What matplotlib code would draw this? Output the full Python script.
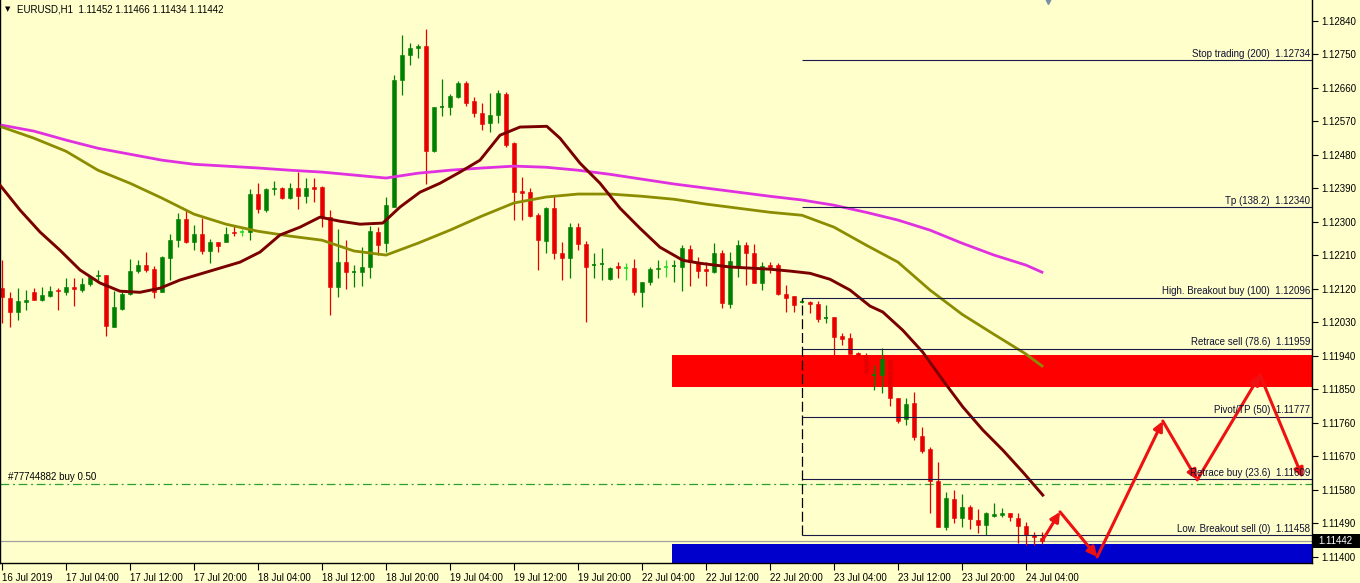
import matplotlib
matplotlib.use('Agg')
import matplotlib.pyplot as plt
import matplotlib.transforms as mtransforms
from matplotlib.patches import Rectangle

# ---------------- data (EURUSD H1, 16 Jul 20:00 .. 24 Jul 06:00) ----------------
opens = [1.12122, 1.12095, 1.12058, 1.12085, 1.12111, 1.12090, 1.12101, 1.12117, 1.12111, 1.12125,
         1.12117, 1.12133, 1.12154, 1.12157, 1.12017, 1.12066, 1.12106, 1.12168, 1.12184, 1.12173,
         1.12111, 1.12203, 1.12251, 1.12308, 1.12246, 1.12267, 1.12222, 1.12246, 1.12246, 1.12273,
         1.12273, 1.12273, 1.12375, 1.12332, 1.12388, 1.12391, 1.12364, 1.12391, 1.12369, 1.12394,
         1.12394, 1.12313, 1.12125, 1.12192, 1.12165, 1.12165, 1.12179, 1.12273, 1.12243, 1.12340,
         1.12681, 1.12748, 1.12767, 1.12772, 1.12490, 1.12608, 1.12608, 1.12635, 1.12673, 1.12625,
         1.12592, 1.12565, 1.12587, 1.12643, 1.12512, 1.12383, 1.12380, 1.12318, 1.12248, 1.12337,
         1.12216, 1.12203, 1.12286, 1.12240, 1.12184, 1.12187, 1.12146, 1.12181, 1.12176, 1.12176,
         1.12111, 1.12138, 1.12173, 1.12179, 1.12181, 1.12179, 1.12227, 1.12192, 1.12173, 1.12165,
         1.12216, 1.12079, 1.12179, 1.12238, 1.12216, 1.12136, 1.12184, 1.12184, 1.12106, 1.12101,
         1.12085, 1.12085, 1.12079, 1.12042, 1.12044, 1.11993, 1.11988, 1.11947, 1.11942, 1.11888,
         1.11888, 1.11929, 1.11827, 1.11770, 1.11813, 1.11724, 1.11690, 1.11604, 1.11480, 1.11555,
         1.11504, 1.11534, 1.11499, 1.11485, 1.11510, 1.11512, 1.11518, 1.11504, 1.11483, 1.11458,
         1.11452]
highs = [1.12197, 1.12111, 1.12122, 1.12117, 1.12122, 1.12125, 1.12128, 1.12122, 1.12149, 1.12149,
         1.12149, 1.12154, 1.12171, 1.12157, 1.12114, 1.12117, 1.12200, 1.12197, 1.12219, 1.12181,
         1.12208, 1.12267, 1.12324, 1.12334, 1.12291, 1.12310, 1.12254, 1.12246, 1.12286, 1.12289,
         1.12281, 1.12388, 1.12404, 1.12391, 1.12410, 1.12394, 1.12404, 1.12434, 1.12418, 1.12418,
         1.12396, 1.12332, 1.12281, 1.12251, 1.12184, 1.12232, 1.12289, 1.12286, 1.12367, 1.12694,
         1.12802, 1.12780, 1.12778, 1.12818, 1.12608, 1.12684, 1.12643, 1.12678, 1.12678, 1.12635,
         1.12619, 1.12646, 1.12654, 1.12649, 1.12514, 1.12420, 1.12391, 1.12324, 1.12340, 1.12372,
         1.12246, 1.12297, 1.12297, 1.12248, 1.12216, 1.12230, 1.12179, 1.12192, 1.12189, 1.12200,
         1.12138, 1.12179, 1.12197, 1.12197, 1.12197, 1.12238, 1.12238, 1.12205, 1.12192, 1.12243,
         1.12224, 1.12219, 1.12251, 1.12246, 1.12240, 1.12192, 1.12192, 1.12189, 1.12130, 1.12101,
         1.12093, 1.12087, 1.12087, 1.12076, 1.12044, 1.12001, 1.12001, 1.11950, 1.11947, 1.11915,
         1.11961, 1.11931, 1.11827, 1.11827, 1.11843, 1.11749, 1.11695, 1.11655, 1.11574, 1.11579,
         1.11569, 1.11539, 1.11528, 1.11520, 1.11544, 1.11531, 1.11518, 1.11518, 1.11493, 1.11466,
         1.11466]
lows = [1.12028, 1.12017, 1.12036, 1.12063, 1.12090, 1.12087, 1.12098, 1.12063, 1.12103, 1.12074,
        1.12111, 1.12128, 1.12144, 1.11993, 1.12017, 1.12063, 1.12103, 1.12162, 1.12165, 1.12095,
        1.12111, 1.12144, 1.12232, 1.12243, 1.12224, 1.12213, 1.12189, 1.12219, 1.12246, 1.12262,
        1.12262, 1.12251, 1.12324, 1.12326, 1.12372, 1.12361, 1.12361, 1.12334, 1.12351, 1.12353,
        1.12286, 1.12050, 1.12098, 1.12119, 1.12125, 1.12128, 1.12149, 1.12211, 1.12219, 1.12340,
        1.12641, 1.12721, 1.12740, 1.12402, 1.12488, 1.12584, 1.12587, 1.12633, 1.12611, 1.12582,
        1.12547, 1.12541, 1.12565, 1.12501, 1.12305, 1.12305, 1.12313, 1.12171, 1.12216, 1.12200,
        1.12144, 1.12149, 1.12224, 1.12031, 1.12149, 1.12144, 1.12144, 1.12149, 1.12144, 1.12103,
        1.12071, 1.12130, 1.12149, 1.12152, 1.12138, 1.12114, 1.12128, 1.12149, 1.12128, 1.12162,
        1.12068, 1.12068, 1.12152, 1.12130, 1.12136, 1.12117, 1.12162, 1.12103, 1.12058, 1.12058,
        1.12082, 1.12055, 1.12031, 1.12028, 1.11942, 1.11969, 1.11945, 1.11939, 1.11888, 1.11848,
        1.11840, 1.11805, 1.11759, 1.11754, 1.11714, 1.11679, 1.11518, 1.11480, 1.11472, 1.11491,
        1.11480, 1.11475, 1.11464, 1.11458, 1.11507, 1.11507, 1.11496, 1.11437, 1.11432, 1.11432,
        1.11434]
closes = [1.12098, 1.12058, 1.12087, 1.12090, 1.12090, 1.12103, 1.12114, 1.12114, 1.12125, 1.12119,
          1.12133, 1.12152, 1.12157, 1.12020, 1.12071, 1.12106, 1.12168, 1.12184, 1.12171, 1.12111,
          1.12205, 1.12251, 1.12308, 1.12246, 1.12267, 1.12222, 1.12246, 1.12235, 1.12267, 1.12270,
          1.12273, 1.12375, 1.12334, 1.12388, 1.12391, 1.12364, 1.12391, 1.12369, 1.12391, 1.12388,
          1.12313, 1.12125, 1.12192, 1.12165, 1.12166, 1.12179, 1.12275, 1.12238, 1.12345, 1.12681,
          1.12748, 1.12767, 1.12772, 1.12490, 1.12608, 1.12609, 1.12638, 1.12673, 1.12619, 1.12592,
          1.12563, 1.12587, 1.12646, 1.12506, 1.12380, 1.12377, 1.12316, 1.12251, 1.12337, 1.12216,
          1.12203, 1.12286, 1.12240, 1.12179, 1.12185, 1.12188, 1.12176, 1.12176, 1.12176, 1.12111,
          1.12138, 1.12173, 1.12176, 1.12179, 1.12182, 1.12230, 1.12192, 1.12168, 1.12168, 1.12216,
          1.12082, 1.12195, 1.12238, 1.12216, 1.12136, 1.12181, 1.12179, 1.12106, 1.12095, 1.12076,
          1.12086, 1.12079, 1.12039, 1.12043, 1.11990, 1.11985, 1.11945, 1.11942, 1.11896, 1.11889,
          1.11931, 1.11827, 1.11765, 1.11810, 1.11722, 1.11684, 1.11604, 1.11480, 1.11558, 1.11504,
          1.11534, 1.11501, 1.11485, 1.11518, 1.11515, 1.11518, 1.11507, 1.11483, 1.11458, 1.11453,
          1.11442]

# time axis labels (bar index -> label)
time_label_idx = [0, 8, 16, 24, 32, 40, 48, 56, 64, 72, 80, 88, 96, 104, 112, 120, 128]
time_labels = ['16 Jul 2019', '17 Jul 04:00', '17 Jul 12:00', '17 Jul 20:00', '18 Jul 04:00',
               '18 Jul 12:00', '18 Jul 20:00', '19 Jul 04:00', '19 Jul 12:00', '19 Jul 20:00',
               '22 Jul 04:00', '22 Jul 12:00', '22 Jul 20:00', '23 Jul 04:00', '23 Jul 12:00',
               '23 Jul 20:00', '24 Jul 04:00']

# fast moving average (maroon)
ma_fast_idx = [-0.25, 2.25, 4.75, 7.25, 9.75, 12.25, 14.75, 17.25, 19.75, 22.25, 24.75, 27.25,
               29.75, 32.25, 34.75, 37.25, 39.75, 42.25, 44.75, 47.6, 49.75, 52.25, 54.75, 57.25,
               59.75, 62.25, 64.75, 68.1, 69.75, 72.25, 74.75, 77.25, 79.75, 82.25, 85.1, 87.25,
               91.0, 93.5, 96.0, 98.5, 101.0, 103.5, 106.0, 108.5, 110.1, 112.6, 115.1, 117.6,
               120.1, 122.6, 125.1, 127.6, 130.1]
ma_fast = [1.12399, 1.12332, 1.12273, 1.12224, 1.12171, 1.12136, 1.12114, 1.12111, 1.12122, 1.12144,
           1.12160, 1.12176, 1.12192, 1.12219, 1.12265, 1.12286, 1.12313, 1.12302, 1.12294, 1.12297,
           1.12340, 1.12380, 1.12404, 1.12434, 1.12466, 1.12533, 1.12555, 1.12557, 1.12525, 1.12458,
           1.12404, 1.12337, 1.12283, 1.12232, 1.12197, 1.12189, 1.12179, 1.12176, 1.12173, 1.12168,
           1.12162, 1.12146, 1.12117, 1.12074, 1.12058, 1.12009, 1.11950, 1.11875, 1.11803, 1.11741,
           1.11687, 1.11628, 1.11566]

# slower moving averages (every 4 bars)
ma_idx = [0, 4, 8, 12, 16, 20, 24, 28, 32, 36, 40, 44, 48, 52, 56, 60, 64, 68, 72, 76,
          80, 84, 88, 92, 96, 100, 104, 108, 112, 116, 120, 124, 128, 130]
ma_mid = [1.12555, 1.12525, 1.12490, 1.12439, 1.12404, 1.12364, 1.12321, 1.12294, 1.12275, 1.12262,
          1.12251, 1.12222, 1.12211, 1.12243, 1.12278, 1.12316, 1.12351, 1.12367, 1.12375, 1.12375,
          1.12369, 1.12361, 1.12348, 1.12337, 1.12326, 1.12318, 1.12286, 1.12238, 1.12192, 1.12117,
          1.12052, 1.11998, 1.11945, 1.11913]
ma_slow = [1.12560, 1.12544, 1.12520, 1.12498, 1.12482, 1.12466, 1.12455, 1.12450, 1.12445, 1.12439,
           1.12434, 1.12426, 1.12418, 1.12431, 1.12439, 1.12445, 1.12450, 1.12447, 1.12439, 1.12428,
           1.12415, 1.12402, 1.12391, 1.12380, 1.12369, 1.12359, 1.12345, 1.12326, 1.12305, 1.12278,
           1.12243, 1.12211, 1.12184, 1.12165]

# fibonacci levels
fib_names = ['Stop trading (200)', 'Tp (138.2)', 'High. Breakout buy (100)', 'Retrace sell (78.6)',
             'Pivot/TP (50)', 'Retrace buy (23.6)', 'Low. Breakout sell (0)']
fib_levels = [1.12734, 1.12340, 1.12096, 1.11959, 1.11777, 1.11609, 1.11458]
fib_start = 100

# zones
zone_start = 84
red_zone = [1.11856, 1.11942]
blue_zone = [1.11380, 1.11435]

order_label = '#77744882 buy 0.50'
order_price = 1.11597
bid = 1.11442
title = 'EURUSD,H1  1.11452 1.11466 1.11434 1.11442'

# projected zig-zag path (bar index, price)
arrow_idx = [130.1, 132.25, 136.9, 145.1, 149.4, 157.25, 162.6]
arrow_price = [1.11446, 1.11521, 1.11400, 1.11765, 1.11607, 1.11889, 1.11612]

ytick_vals = [1.12840, 1.12750, 1.12660, 1.12570, 1.12480, 1.12390, 1.12300, 1.12210, 1.12120,
              1.12030, 1.11940, 1.11850, 1.11760, 1.11670, 1.11580, 1.11490, 1.11400]

# ---------------- drawing ----------------
BG = '#FFFFCC'
W, H = 1360, 583
fig = plt.figure(figsize=(W / 100, H / 100), dpi=100, facecolor=BG)
ax = fig.add_axes([0, 20 / H, 1312 / W, 563 / H])
ax.set_facecolor(BG)
XMIN, XMAX = -0.25, 163.75
ax.set_xlim(XMIN, XMAX)
ax.set_ylim(1.113836, 1.128964)

FONT = 'Liberation Sans'
FS = 7

# zones (behind candles)
for (lo, hi), col in ((red_zone, '#FF0000'), (blue_zone, '#0000CC')):
    ax.add_patch(Rectangle((zone_start - 0.25, lo), XMAX - zone_start + 0.25, hi - lo,
                           facecolor=col, edgecolor='none', zorder=1))

# bid line and order line
ax.axhline(bid, color='#A0A0A0', lw=0.9, zorder=1.5)
ax.axhline(order_price, color='#2CA02C', lw=0.9, linestyle=(0, (7, 3, 1.5, 3)), zorder=1.5)
ax.text(0.7, order_price + 0.00004, order_label, fontsize=FS, family=FONT, va='bottom', ha='left',
        color='black', zorder=5)

# candles
BULL, BEAR, DOJI = '#008000', '#E80000', '#22DD22'
bw = 0.62
for i in range(len(opens)):
    o, h, l, c = opens[i], highs[i], lows[i], closes[i]
    if c > o:
        col = BULL
    elif c < o:
        col = BEAR
    else:
        col = DOJI
    ax.vlines(i, l, h, color=col, lw=0.9, zorder=2)
    lo, hi = min(o, c), max(o, c)
    if hi - lo < 0.00002:
        ax.hlines((o + c) / 2, i - bw / 2, i + bw / 2, color=col, lw=1.2, zorder=2)
    else:
        ax.add_patch(Rectangle((i - bw / 2, lo), bw, hi - lo, facecolor=col, edgecolor=col,
                               lw=0.4, zorder=2))

# moving averages
ax.plot(ma_idx, ma_slow, color='#E030E0', lw=2.0, zorder=3, solid_joinstyle='round')
ax.plot(ma_idx, ma_mid, color='#8C8C00', lw=2.0, zorder=3, solid_joinstyle='round')
ax.plot(ma_fast_idx, ma_fast, color='#7A0000', lw=2.1, zorder=3, solid_joinstyle='round')

# fibonacci
for name, lvl in zip(fib_names, fib_levels):
    ax.hlines(lvl, fib_start, XMAX, color='#1A1A4A', lw=0.8, zorder=3.5)
    ax.annotate(f'{name}  {lvl:.5f}', xy=(1.0, lvl), xycoords=('axes fraction', 'data'),
                xytext=(-1.5, 1.0), textcoords='offset points', ha='right', va='bottom',
                fontsize=FS, family=FONT, color='#101030', zorder=5)
ax.vlines(fib_start, fib_levels[-1], fib_levels[2], color='black', lw=0.9,
          linestyles=(0, (8, 3)), zorder=3.5)

# zig-zag arrows
for k in range(len(arrow_idx) - 1):
    ax.annotate('', xy=(arrow_idx[k + 1], arrow_price[k + 1]), xytext=(arrow_idx[k], arrow_price[k]),
                arrowprops=dict(arrowstyle='-|>', color='#EE1111', lw=2.2, mutation_scale=14,
                                shrinkA=0, shrinkB=0), zorder=4)

# axes styling
ax.spines['top'].set_visible(False)
for s in ('left', 'right', 'bottom'):
    ax.spines[s].set_color('black')
    ax.spines[s].set_linewidth(1.0)
ax.yaxis.tick_right()
ax.set_yticks(ytick_vals)
ax.set_yticklabels([f'{v:.5f}' for v in ytick_vals], fontsize=FS, family=FONT)
ax.tick_params(axis='y', direction='out', length=4, width=0.8, pad=3, colors='black')
ax.set_xticks(time_label_idx)
ax.set_xticklabels(time_labels, fontsize=FS, family=FONT, ha='left')
ax.tick_params(axis='x', direction='out', length=5, width=0.8, pad=2, colors='black')

# current price box on the axis
blend = mtransforms.blended_transform_factory(fig.transFigure, ax.transData)
ax.add_patch(Rectangle((1313 / W, bid - 0.00019), 47 / W, 0.00038, transform=blend,
                       facecolor='black', edgecolor='none', clip_on=False, zorder=6))
fig.text(1318 / W, bid, f'{bid:.5f}', transform=blend, color='white', fontsize=FS, family=FONT,
         va='center', ha='left', zorder=7)

# title
fig.text(5 / W, 1 - 9 / H, '\u25BC', fontsize=5, color='black', va='center', ha='left')
fig.text(17 / W, 1 - 9 / H, title, fontsize=FS, family=FONT, color='black', va='center', ha='left')

# chart shift marker
ax.plot([130.75], [1.128964], marker='v', markersize=6, color='#7890A8', clip_on=False, zorder=6)

fig.savefig('out.png', dpi=100, facecolor=BG)
